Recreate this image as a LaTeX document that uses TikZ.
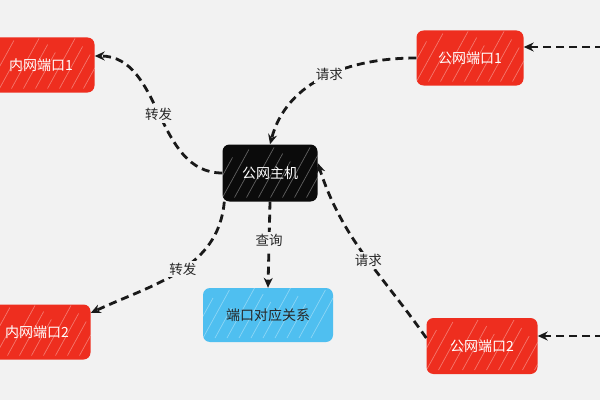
\documentclass[tikz,border=0pt]{standalone}
\usepackage{fontspec}
\newfontfamily\cjk{Noto Sans CJK SC}
\usetikzlibrary{arrows.meta}
\definecolor{bgc}{HTML}{F2F2F2}
\definecolor{myred}{HTML}{EE2E1F}
\definecolor{myblue}{HTML}{4FBFF0}
\definecolor{myblack}{HTML}{0B0B0B}
\begin{document}
\begin{tikzpicture}[x=1pt,y=1pt,
  hatch/.style={path picture={
    \foreach \i/\h in {0/40,1/48,2/30,3/50,4/44,5/36,6/50,7/42,8/34,9/48,10/40}{
      \draw[white,opacity=0.35,line width=0.7pt]
        ([xshift=\i*12pt-12pt,yshift=4pt]path picture bounding box.south west) -- ++(0.55*\h pt,\h pt);}
  }},
  box/.style={rounded corners=7pt, inner sep=0pt, hatch,
    font=\cjk\fontsize{14}{15}\selectfont},
  redbox/.style={box, fill=myred, text=white, minimum width=107pt, minimum height=55pt},
  blackbox/.style={box, fill=myblack, text=white, minimum width=95pt, minimum height=57pt},
  bluebox/.style={box, fill=myblue, text=black!85, minimum width=130pt, minimum height=54pt},
  conn/.style={line width=2.8pt, dash pattern=on 8pt off 5pt, black!90,
    -{Stealth[length=10pt,width=9pt]}},
  lbl/.style={fill=bgc, inner sep=2pt, text=black!85,
    font=\cjk\fontsize{13.5}{14}\selectfont}
]
\fill[bgc] (0,0) rectangle (600,400);
\useasboundingbox (0,0) rectangle (600,400);

\node[redbox] (in1) at (41,335) {内网端口1};
\node[blackbox] (host) at (270,227) {公网主机};
\node[redbox] (p1) at (470,342) {公网端口1};
\node[bluebox] (map) at (268,85) {端口对应关系};
\node[redbox] (in2) at (37,68) {内网端口2};
\node[redbox, minimum width=111pt, minimum height=56pt] (p2) at (482,54) {公网端口2};

\coordinate (rp1) at (603,353);
\coordinate (rp2) at (603,64);

\draw[conn] (rp1) -- (rp1 -| p1.east);
\draw[conn] (rp2) -- (rp2 -| p2.east);

\draw[conn] (p1.west) to[out=180,in=75]
  node[lbl,pos=0.47] (l1) {请求} (host.north);
\draw[conn] (host.west) to[out=180,in=0]
  node[lbl,pos=0.5] (l2) {转发} ([yshift=9pt]in1.east);
\draw[conn] ([xshift=2pt]host.south west) to[out=-95,in=25]
  node[lbl,pos=0.47] (l3) {转发} ([yshift=19pt]in2.east);
\draw[conn] (host.south) -- node[lbl,pos=0.45] (l4) {查询} (map.north);
\draw[conn] ([yshift=8pt]p2.west) to[out=125,in=-72]
  node[lbl,pos=0.46] (l5) {请求} ([yshift=10pt]host.east);
\end{tikzpicture}
\end{document}
